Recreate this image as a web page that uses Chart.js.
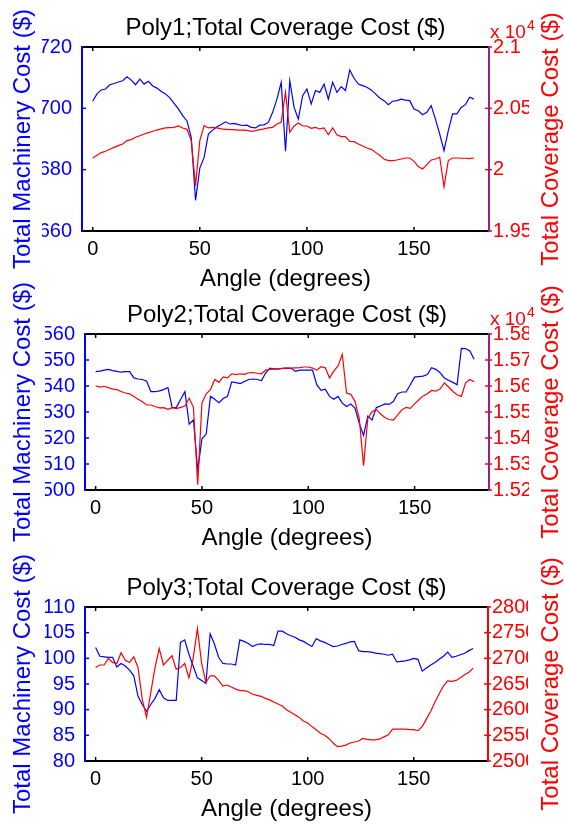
<!DOCTYPE html>
<html>
<head>
<meta charset="utf-8">
<title>Total Coverage Cost by Angle</title>
<script src="https://cdn.jsdelivr.net/npm/chart.js@4.4.1/dist/chart.umd.min.js"></script>
<style>
  html, body { margin: 0; padding: 0; background: #ffffff; }
  #wrap { position: relative; width: 565px; height: 825px; overflow: hidden; background: #ffffff; }
  #wrap canvas { position: absolute; left: 0; top: 0; }
</style>
</head>
<body>
<div id="wrap">
  <canvas id="poly1" width="565" height="825"></canvas>
  <canvas id="poly2" width="565" height="825"></canvas>
  <canvas id="poly3" width="565" height="825"></canvas>
</div>
<script>
// Sweep angles (degrees)
const angles = [
  0, 2, 4, 6, 8, 10, 12, 14, 16, 18, 20, 22, 24, 26, 28, 30, 32, 34, 36, 38,
  40, 42, 44, 46, 48, 50, 52, 54, 56, 58, 60, 62, 64, 66, 68, 70, 72, 74, 76, 78,
  80, 82, 84, 86, 88, 90, 92, 94, 96, 98, 100, 102, 104, 106, 108, 110, 112, 114, 116, 118,
  120, 122, 124, 126, 128, 130, 132, 134, 136, 138, 140, 142, 144, 146, 148, 150, 152, 154, 156, 158,
  160, 162, 164, 166, 168, 170, 172, 174, 176, 178
];

// Poly1
const poly1Machinery = [
  702.3, 704.7, 706.0, 706.3, 707.7, 708.1, 708.6, 709.0, 710.3, 709.2,
  707.7, 709.5, 707.9, 708.8, 707.3, 706.6, 705.5, 704.7, 703.4, 701.6,
  699.8, 697.6, 695.9, 690.5, 670.0, 680.5, 684.0, 691.6, 692.9, 694.0,
  694.7, 695.6, 694.9, 695.1, 694.7, 694.4, 694.5, 693.8, 693.6, 694.5,
  694.6, 695.4, 698.7, 703.0, 708.5, 686.0, 709.0, 700.3, 696.5, 704.1,
  706.3, 701.4, 705.8, 705.2, 707.9, 703.0, 708.5, 705.2, 707.1, 705.8,
  712.5, 709.8, 707.9, 707.4, 706.9, 706.0, 704.7, 703.4, 702.5, 701.2,
  702.3, 702.5, 703.0, 702.7, 702.5, 699.8, 699.2, 697.9, 698.7, 700.9,
  696.5, 691.6, 686.2, 692.7, 698.2, 698.2, 700.3, 701.2, 703.6, 703.0
];
const poly1Coverage = [
  20095, 20117, 20139, 20150, 20166, 20182, 20196, 20209, 20237, 20245,
  20264, 20277, 20291, 20302, 20313, 20323, 20332, 20340, 20343, 20345,
  20356, 20340, 20329, 20237, 19870, 20237, 20359, 20340, 20345, 20340,
  20332, 20329, 20326, 20326, 20323, 20323, 20321, 20313, 20318, 20326,
  20332, 20340, 20345, 20372, 20386, 20631, 20304, 20356, 20381, 20356,
  20356, 20337, 20345, 20332, 20340, 20285, 20340, 20285, 20269, 20269,
  20231, 20228, 20209, 20193, 20177, 20166, 20141, 20117, 20087, 20074,
  20074, 20079, 20087, 20095, 20095, 20068, 20025, 20006, 20041, 20079,
  20087, 20101, 19860, 20074, 20095, 20095, 20093, 20093, 20090, 20095
];

// Poly2
const poly2Machinery = [
  545.5, 545.7, 546.1, 546.4, 545.9, 545.6, 545.3, 545.5, 545.5, 543.1,
  542.7, 542.5, 541.8, 537.8, 537.8, 538.1, 538.6, 539.4, 531.7, 531.8,
  534.9, 537.8, 525.3, 527.0, 507.7, 519.7, 521.5, 536.0, 534.9, 533.6,
  535.2, 536.0, 541.6, 541.3, 540.9, 541.7, 542.5, 542.7, 542.5, 542.1,
  545.1, 546.9, 546.5, 546.6, 546.8, 546.8, 546.8, 545.6, 546.1, 546.1,
  546.1, 546.1, 540.5, 538.3, 538.8, 536.0, 534.9, 536.0, 533.4, 532.1,
  533.1, 531.4, 525.6, 521.0, 528.4, 526.9, 531.7, 532.3, 533.1, 532.9,
  534.0, 537.0, 537.7, 537.7, 540.5, 543.4, 543.6, 543.8, 544.4, 547.0,
  546.4, 545.1, 543.1, 542.2, 541.4, 540.5, 554.5, 554.4, 553.5, 550.3
];
const poly2Coverage = [
  15601, 15596, 15599, 15594, 15588, 15586, 15579, 15573, 15570, 15560,
  15549, 15539, 15527, 15527, 15521, 15516, 15517, 15510, 15517, 15513,
  15518, 15523, 15553, 15518, 15220, 15535, 15570, 15586, 15625, 15614,
  15635, 15631, 15647, 15644, 15647, 15645, 15651, 15652, 15649, 15647,
  15661, 15664, 15666, 15666, 15668, 15670, 15669, 15670, 15671, 15673,
  15673, 15669, 15661, 15674, 15670, 15631, 15657, 15677, 15722, 15573,
  15568, 15540, 15475, 15293, 15475, 15501, 15510, 15492, 15479, 15471,
  15469, 15488, 15508, 15518, 15514, 15531, 15547, 15562, 15570, 15583,
  15580, 15588, 15612, 15596, 15579, 15566, 15560, 15612, 15625, 15616
];

// Poly3
const poly3Machinery = [
  102.1, 100.4, 100.3, 100.2, 100.2, 98.3, 99.0, 98.5, 97.7, 96.6,
  92.6, 91.0, 89.7, 91.0, 92.2, 93.9, 92.3, 91.8, 91.8, 91.8,
  103.1, 103.6, 100.8, 98.5, 96.2, 95.7, 95.1, 104.8, 102.8, 100.2,
  99.0, 98.9, 98.9, 98.7, 103.6, 103.3, 102.9, 102.3, 102.7, 102.8,
  102.7, 102.7, 102.5, 105.3, 105.3, 104.8, 104.4, 104.1, 103.6, 103.3,
  102.8, 102.3, 103.8, 103.4, 103.1, 102.7, 102.3, 102.4, 102.7, 102.9,
  103.2, 103.3, 101.5, 101.3, 101.3, 101.2, 101.0, 100.9, 100.8, 100.6,
  100.8, 99.3, 99.4, 99.5, 99.7, 100.0, 99.8, 97.5, 98.1, 98.7,
  99.2, 99.8, 100.4, 101.2, 100.2, 100.4, 100.7, 101.0, 101.5, 101.9
];
const poly3Coverage = [
  2682, 2687, 2687, 2700, 2692, 2690, 2711, 2696, 2692, 2703,
  2682, 2620, 2585, 2633, 2682, 2719, 2687, 2696, 2705, 2679,
  2682, 2690, 2662, 2700, 2758, 2690, 2653, 2666, 2666, 2657,
  2646, 2648, 2644, 2640, 2637, 2637, 2635, 2630, 2628, 2626,
  2622, 2619, 2615, 2611, 2607, 2600, 2595, 2590, 2585, 2578,
  2574, 2567, 2561, 2554, 2550, 2544, 2535, 2528, 2529, 2531,
  2535, 2537, 2539, 2544, 2542, 2541, 2541, 2543, 2547, 2551,
  2562, 2562, 2562, 2562, 2561, 2561, 2559, 2567, 2582, 2597,
  2615, 2631, 2646, 2656, 2655, 2657, 2662, 2668, 2673, 2681
];

// Tick values and labels
const angleTicks = [0, 50, 100, 150];
const poly1LeftTicks = [660, 680, 700, 720];
const poly1RightTicks = [19500, 20000, 20500, 21000];
const poly1RightLabels = ['1.95', '2', '2.05', '2.1'];
const poly2LeftTicks = [500, 510, 520, 530, 540, 550, 560];
const poly2RightTicks = [15200, 15300, 15400, 15500, 15600, 15700, 15800];
const poly2RightLabels = ['1.52', '1.53', '1.54', '1.55', '1.56', '1.57', '1.58'];
const poly3LeftTicks = [80, 85, 90, 95, 100, 105, 110];
const poly3RightTicks = [2500, 2550, 2600, 2650, 2700, 2750, 2800];
const poly3RightLabels = ['2500', '2550', '2600', '2650', '2700', '2750', '2800'];

const FONT = "'Liberation Sans', Arial, Helvetica, sans-serif";
const BLUE = '#0000ff';
const RED = '#ff0000';
const PAGE_W = 565, PAGE_H = 825;
const LEFT_W = 40, RIGHT_W = 40, BOTTOM_H = 40;

// Axis box, inward tick marks and the panel's titles
const framePlugin = {
  id: 'frame',
  afterDatasetsDraw(chart, args, o) {
    const { ctx, chartArea: a, scales } = chart;
    const xs = scales.x, yl = scales.y, yr = scales.y1;
    const seg = (x1, y1, x2, y2) => { ctx.beginPath(); ctx.moveTo(x1, y1); ctx.lineTo(x2, y2); ctx.stroke(); };
    ctx.save();
    ctx.lineCap = 'butt';

    ctx.lineWidth = 1.5;
    ctx.strokeStyle = '#000000';
    xs.ticks.forEach(t => {
      const px = xs.getPixelForValue(t.value);
      seg(px, a.top, px, a.top + 4);
      seg(px, a.bottom, px, a.bottom - 4);
    });
    ctx.strokeStyle = BLUE;
    yl.ticks.forEach(t => {
      const py = yl.getPixelForValue(t.value);
      seg(a.left, py, a.left + 4, py);
    });
    ctx.strokeStyle = RED;
    yr.ticks.forEach(t => {
      const py = yr.getPixelForValue(t.value);
      seg(a.right - 4, py, a.right + 3, py);
    });

    ctx.lineWidth = 2;
    ctx.strokeStyle = '#000000';
    seg(a.left, a.top, a.right, a.top);
    seg(a.left, a.bottom, a.right, a.bottom);
    ctx.strokeStyle = BLUE;
    seg(a.left, a.top - 1, a.left, a.bottom + 1);
    ctx.strokeStyle = o.rightColor;
    seg(a.right, a.top - 1, a.right, a.bottom + 1);

    const cx = (a.left + a.right) / 2;
    const cy = (a.top + a.bottom) / 2;
    ctx.textAlign = 'center';
    ctx.textBaseline = 'alphabetic';
    ctx.font = '24px ' + FONT;
    ctx.fillStyle = '#000000';
    ctx.fillText(o.title, cx, a.top - 12);
    ctx.fillText(o.xTitle, cx, a.bottom + 55);

    ctx.save();
    ctx.translate(30, cy);
    ctx.rotate(-Math.PI / 2);
    ctx.fillStyle = BLUE;
    ctx.fillText(o.leftTitle, 0, 0);
    ctx.restore();

    ctx.save();
    ctx.translate(558, cy);
    ctx.rotate(-Math.PI / 2);
    ctx.fillStyle = RED;
    ctx.fillText(o.rightTitle, 0, 0);
    ctx.restore();

    if (o.exponent) {
      ctx.textAlign = 'left';
      ctx.fillStyle = RED;
      ctx.font = '19px ' + FONT;
      const base = 'x 10';
      ctx.fillText(base, a.right + 1, a.top - 9);
      const w = ctx.measureText(base).width;
      ctx.font = '14px ' + FONT;
      ctx.fillText(o.exponent, a.right + 2 + w, a.top - 17);
    }
    ctx.restore();
  }
};

function fixedTicks(values) {
  return scale => { scale.ticks = values.map(v => ({ value: v })); };
}

function makePanel(id, p) {
  const ctx = document.getElementById(id);
  return new Chart(ctx, {
    type: 'line',
    data: {
      datasets: [
        {
          label: 'Total Coverage Cost',
          data: angles.map((a, i) => ({ x: a, y: p.coverage[i] })),
          yAxisID: 'y1',
          borderColor: RED,
          borderWidth: 1.2,
          pointRadius: 0,
          tension: 0,
          fill: false
        },
        {
          label: 'Total Machinery Cost',
          data: angles.map((a, i) => ({ x: a, y: p.machinery[i] })),
          yAxisID: 'y',
          borderColor: BLUE,
          borderWidth: 1.2,
          pointRadius: 0,
          tension: 0,
          fill: false
        }
      ]
    },
    options: {
      responsive: false,
      animation: false,
      devicePixelRatio: 1,
      layout: {
        padding: {
          left: p.area.left - LEFT_W,
          right: PAGE_W - p.area.right - RIGHT_W,
          top: p.area.top,
          bottom: PAGE_H - p.area.bottom - BOTTOM_H
        }
      },
      plugins: {
        legend: { display: false },
        tooltip: { enabled: false },
        frame: {
          title: p.title,
          xTitle: 'Angle (degrees)',
          leftTitle: 'Total Machinery Cost ($)',
          rightTitle: 'Total Coverage Cost ($)',
          rightColor: p.rightColor,
          exponent: p.exponent
        }
      },
      scales: {
        x: {
          type: 'linear',
          position: 'bottom',
          min: -5,
          max: 185,
          afterBuildTicks: fixedTicks(angleTicks),
          afterFit: s => { s.height = BOTTOM_H; },
          grid: { display: false, drawTicks: false },
          border: { display: false },
          ticks: {
            color: '#000000',
            font: { family: FONT, size: 20 },
            padding: 6,
            maxRotation: 0,
            autoSkip: false,
            callback: v => String(v)
          }
        },
        y: {
          type: 'linear',
          position: 'left',
          min: p.leftTicks[0],
          max: p.leftTicks[p.leftTicks.length - 1],
          afterBuildTicks: fixedTicks(p.leftTicks),
          afterFit: s => { s.width = LEFT_W; },
          grid: { display: false, drawTicks: false },
          border: { display: false },
          ticks: {
            color: BLUE,
            font: { family: FONT, size: 20 },
            padding: 10,
            autoSkip: false,
            callback: v => String(v)
          }
        },
        y1: {
          type: 'linear',
          position: 'right',
          min: p.rightTicks[0],
          max: p.rightTicks[p.rightTicks.length - 1],
          afterBuildTicks: fixedTicks(p.rightTicks),
          afterFit: s => { s.width = RIGHT_W; },
          grid: { display: false, drawTicks: false },
          border: { display: false },
          ticks: {
            color: RED,
            font: { family: FONT, size: 20 },
            padding: 4,
            autoSkip: false,
            callback: (v, i) => p.rightLabels[i]
          }
        }
      }
    },
    plugins: [framePlugin]
  });
}

makePanel('poly1', {
  title: 'Poly1;Total Coverage Cost ($)',
  area: { left: 82, right: 489, top: 47, bottom: 231 },
  machinery: poly1Machinery,
  coverage: poly1Coverage,
  leftTicks: poly1LeftTicks,
  rightTicks: poly1RightTicks,
  rightLabels: poly1RightLabels,
  rightColor: '#a01e78',
  exponent: '4'
});

makePanel('poly2', {
  title: 'Poly2;Total Coverage Cost ($)',
  area: { left: 85, right: 489, top: 334, bottom: 490 },
  machinery: poly2Machinery,
  coverage: poly2Coverage,
  leftTicks: poly2LeftTicks,
  rightTicks: poly2RightTicks,
  rightLabels: poly2RightLabels,
  rightColor: '#a01e78',
  exponent: '4'
});

makePanel('poly3', {
  title: 'Poly3;Total Coverage Cost ($)',
  area: { left: 85, right: 488, top: 607, bottom: 761 },
  machinery: poly3Machinery,
  coverage: poly3Coverage,
  leftTicks: poly3LeftTicks,
  rightTicks: poly3RightTicks,
  rightLabels: poly3RightLabels,
  rightColor: RED,
  exponent: null
});
</script>
</body>
</html>
